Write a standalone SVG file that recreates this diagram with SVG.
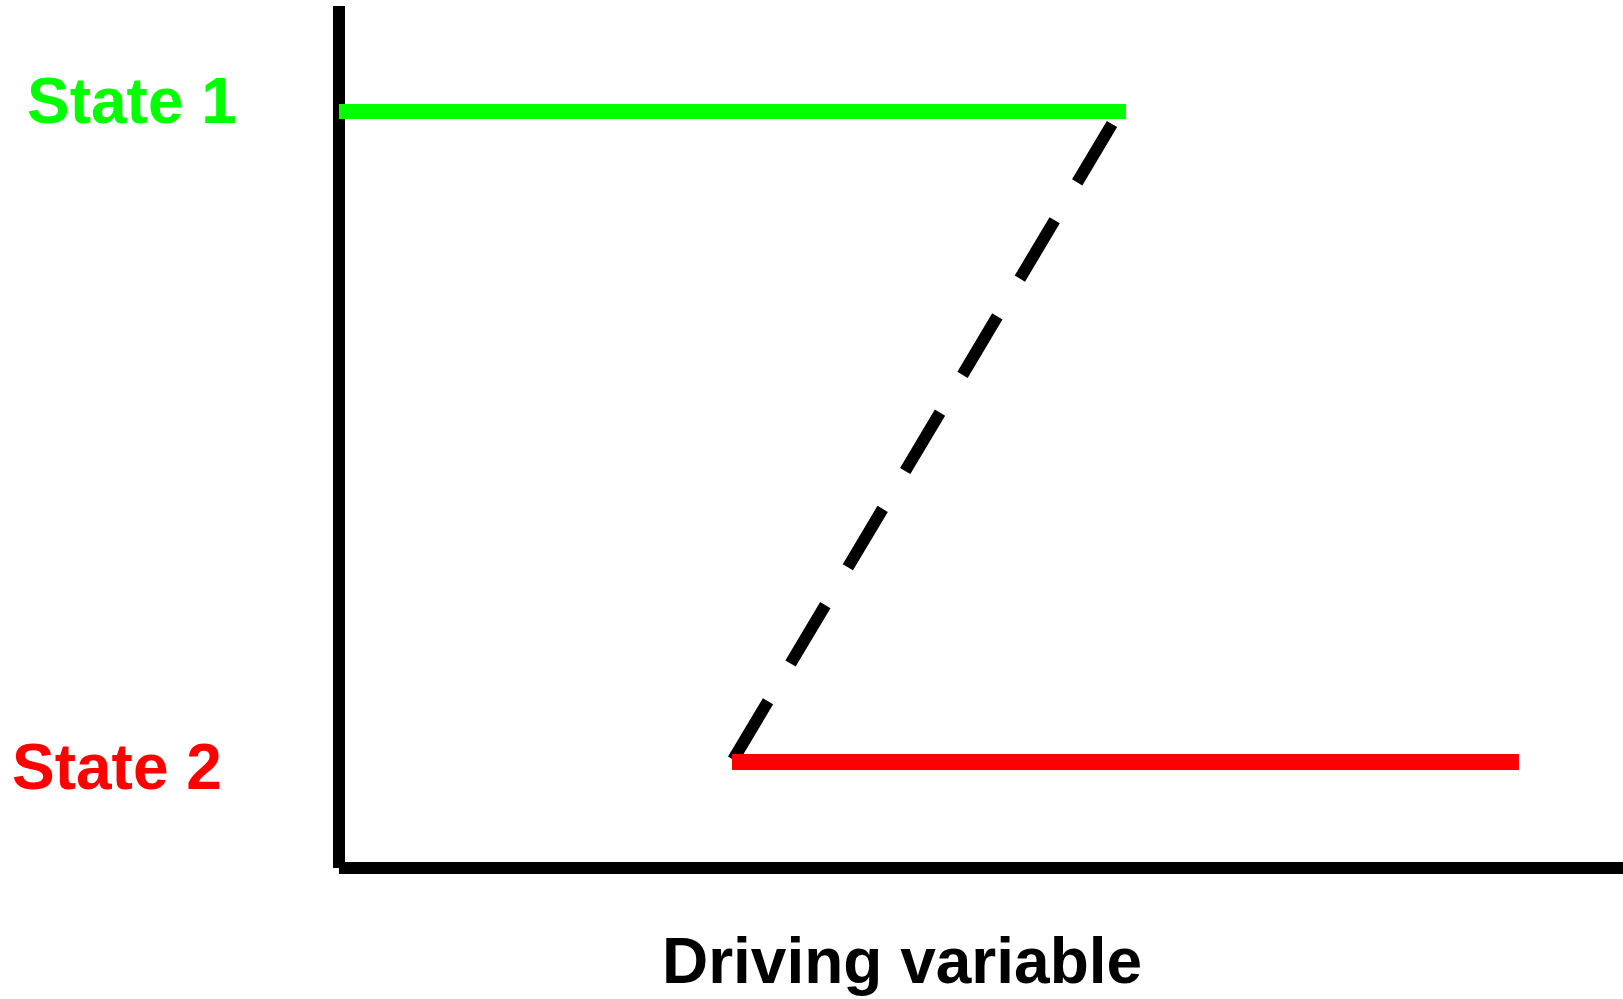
<svg xmlns="http://www.w3.org/2000/svg" width="1623" height="999" viewBox="0 0 1623 999">
<style>
.lbl{font-family:"Liberation Sans",Arial,sans-serif;font-weight:bold;font-size:64px}
.axis{stroke:#000;stroke-width:12;fill:none}
</style>
<rect width="1623" height="999" fill="#fff"/>
<g id="axes">
<line class="axis" x1="339" y1="6" x2="339" y2="868"/>
<line class="axis" x1="339" y1="868" x2="1623" y2="868"/>
</g>
<g id="connectors">
<line x1="1112" y1="124" x2="733" y2="760" stroke="#000" stroke-width="12" stroke-dasharray="68 44"/>
</g>
<g id="state1">
<line x1="339" y1="111.5" x2="1126" y2="111.5" stroke="#00ff00" stroke-width="15"/>
<text class="lbl" x="27" y="123" fill="#00ff00">State 1</text>
</g>
<g id="state2">
<line x1="732" y1="762" x2="1519" y2="762" stroke="#ff0000" stroke-width="16"/>
<text class="lbl" x="12" y="789" fill="#ff0000">State 2</text>
</g>
<g id="xlabel">
<text class="lbl" x="902" y="983" text-anchor="middle" fill="#000">Driving variable</text>
</g>
</svg>
